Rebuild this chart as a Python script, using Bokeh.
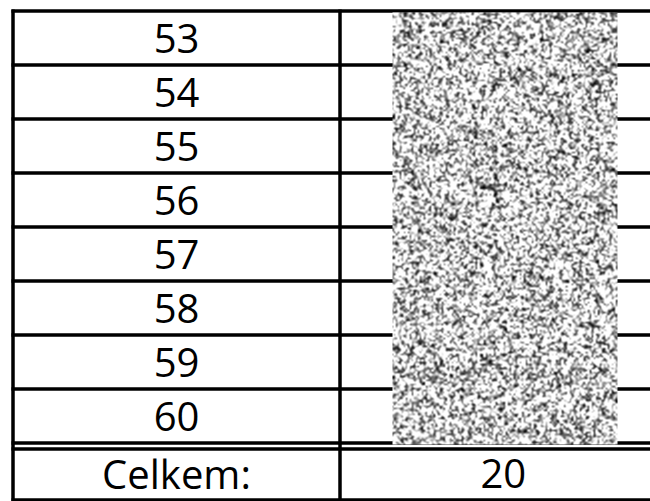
import numpy as np
from bokeh.plotting import figure
from bokeh.models import Range1d, ColumnDataSource
from bokeh.core.properties import value
from bokeh.embed import file_html
from bokeh.resources import INLINE

# ---- table content ----
row_labels = ["53", "54", "55", "56", "57", "58", "59", "60"]
total_label = "Celkem:"
total_value = "20"

# ---- layout (picture pixel coordinates, y from top) ----
W, H = 650, 501


def Y(py):
    return H - py


TOP = 10.5
ROW_H = 54
GAP = 6
TOTAL_H = 51
XL = 12.5
XM = 339.5
XR = 690
LW = 3.5
NOISE_X0, NOISE_X1 = 392, 617
BASE_FIX = 15  # renderer places alphabetic baseline lower than requested

n = len(row_labels)
first_double = TOP + n * ROW_H
second_double = first_double + GAP
bottom = second_double + TOTAL_H

p = figure(width=W, height=H, x_range=Range1d(0, W), y_range=Range1d(0, H),
           output_backend="svg", toolbar_location=None, min_border=0,
           x_axis_location=None, y_axis_location=None)
p.grid.visible = False
p.outline_line_color = None
p.background_fill_color = "white"
p.border_fill_color = "white"

# horizontal lines
hy = [TOP + k * ROW_H for k in range(n + 1)] + [second_double, bottom]
p.segment(x0=[XL - 1.5] * len(hy), x1=[XR] * len(hy),
          y0=[Y(v) for v in hy], y1=[Y(v) for v in hy],
          line_color="black", line_width=LW)
# vertical lines
p.segment(x0=[XL, XM], x1=[XL, XM], y0=[Y(TOP - 1.5)] * 2, y1=[Y(bottom + 1.5)] * 2,
          line_color="black", line_width=LW)

# labels
src = ColumnDataSource(dict(
    x=[(XL + XM) / 2] * n,
    y=[Y(TOP + i * ROW_H + 42.5 - BASE_FIX) for i in range(n)],
    t=row_labels))
p.text(x="x", y="y", text="t", source=src, text_font=value("Open Sans"),
       text_font_size=value("40px"), text_align="center",
       text_baseline="alphabetic", text_color="black")
p.text(x=[(XL + XM) / 2, (XM + 666) / 2], y=[Y(second_double + 39.5 - BASE_FIX)] * 2,
       text=[total_label, total_value], text_font=value("Open Sans"),
       text_font_size=value("40px"), text_align="center",
       text_baseline="alphabetic", text_color="black")

# redacted noise image texture (coarse grain)
noise_top = TOP + 1.5
noise_bot = first_double + 1.5
h = int(round(noise_bot - noise_top))
w = NOISE_X1 - NOISE_X0
rng = np.random.default_rng(7)
coarse = rng.random(((h + 3) // 2 + 1, (w + 3) // 2 + 1))
base = np.kron(coarse, np.ones((2, 2)))[:h + 2, :w + 2]
b = (base[:-2, :-2] + base[1:-1, :-2] + base[2:, :-2] +
     base[:-2, 1:-1] + 2 * base[1:-1, 1:-1] + base[2:, 1:-1] +
     base[:-2, 2:] + base[1:-1, 2:] + base[2:, 2:]) / 10.0
z = (b - b.mean()) / b.std()
g = np.clip(0.80 + 0.30 * z, 0, 1)
g = (g * 255).astype(np.uint8)
img = np.empty((h, w), dtype=np.uint32)
view = img.view(dtype=np.uint8).reshape((h, w, 4))
view[..., 0] = g
view[..., 1] = g
view[..., 2] = g
view[..., 3] = 255
p.image_rgba(image=[img], x=NOISE_X0, y=Y(noise_bot), dw=w, dh=noise_bot - noise_top)

open("out.html", "w").write(file_html(p, INLINE))
